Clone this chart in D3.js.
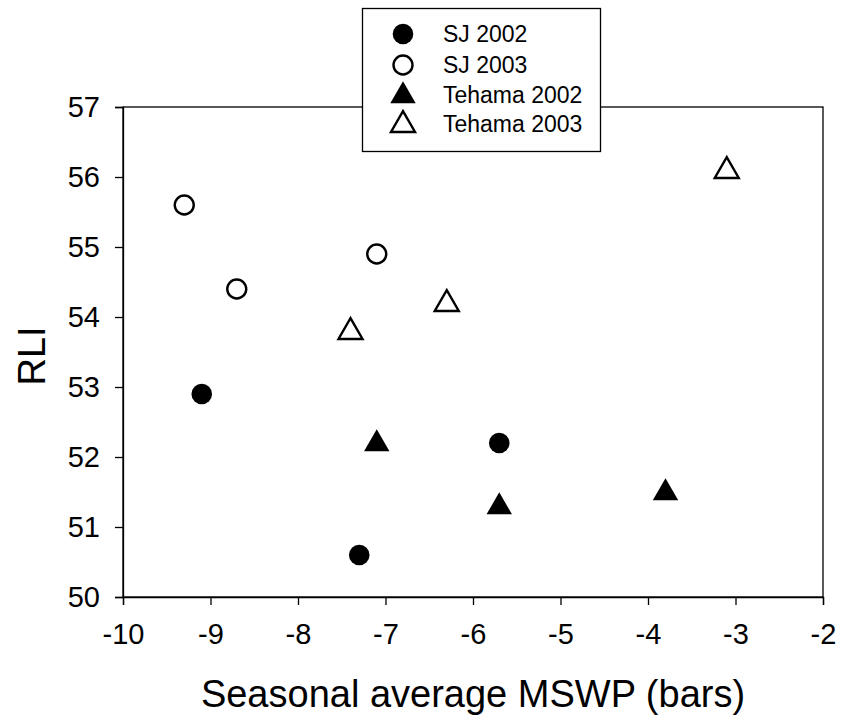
<!DOCTYPE html>
<html>
<head>
<meta charset="utf-8">
<script src="https://cdn.jsdelivr.net/npm/d3@7"></script>
<style>
  html, body { margin: 0; padding: 0; background: #fff; }
  svg { display: block; font-family: Arial, "Liberation Sans", Helvetica, sans-serif; }
</style>
</head>
<body>
<svg id="chart" width="844" height="717"></svg>
<script>
// ---- data ----
const seriesNames = ["SJ 2002", "SJ 2003", "Tehama 2002", "Tehama 2003"];
const sj2002X = [-9.1, -7.3, -5.7];
const sj2002Y = [52.9, 50.6, 52.2];
const sj2003X = [-9.3, -8.7, -7.1];
const sj2003Y = [55.6, 54.4, 54.9];
const tehama2002X = [-7.1, -5.7, -3.8];
const tehama2002Y = [52.2, 51.3, 51.5];
const tehama2003X = [-7.4, -6.3, -3.1];
const tehama2003Y = [53.8, 54.2, 56.1];
const xTicks = [-10, -9, -8, -7, -6, -5, -4, -3, -2];
const yTicks = [50, 51, 52, 53, 54, 55, 56, 57];
const xTitle = "Seasonal average MSWP (bars)";
const yTitle = "RLI";

const series = [
  { name: seriesNames[0], xs: sj2002X, ys: sj2002Y, shape: "circle", filled: true },
  { name: seriesNames[1], xs: sj2003X, ys: sj2003Y, shape: "circle", filled: false },
  { name: seriesNames[2], xs: tehama2002X, ys: tehama2002Y, shape: "triangle", filled: true },
  { name: seriesNames[3], xs: tehama2003X, ys: tehama2003Y, shape: "triangle", filled: false }
];

const svg = d3.select("#chart");
const margin = { left: 123, right: 844 - 823, top: 107, bottom: 717 - 597 };
const W = 844, H = 717;
const x = d3.scaleLinear().domain([-10, -2]).range([margin.left, W - margin.right]);
const y = d3.scaleLinear().domain([50, 57]).range([H - margin.bottom, margin.top]);

// frame
svg.append("rect")
  .attr("x", x(-10)).attr("y", y(57))
  .attr("width", x(-2) - x(-10)).attr("height", y(50) - y(57))
  .attr("fill", "none").attr("stroke", "#000").attr("stroke-width", 1.3);

// axes
const xAxis = d3.axisBottom(x).tickValues(xTicks).tickSize(8).tickPadding(18).tickFormat(d3.format("d"));
const yAxis = d3.axisLeft(y).tickValues(yTicks).tickSize(8).tickPadding(15).tickFormat(d3.format("d"));

const gx = svg.append("g").attr("transform", `translate(0,${y(50)})`).call(xAxis);
const gy = svg.append("g").attr("transform", `translate(${x(-10)},0)`).call(yAxis);
[gx, gy].forEach(g => {
  g.select(".domain").attr("stroke", "#000").attr("stroke-width", 1.3);
  g.selectAll(".tick line").attr("stroke", "#000").attr("stroke-width", 1.3);
  g.selectAll(".tick text").attr("fill", "#000").attr("font-size", 29)
    .attr("font-family", "Arial, 'Liberation Sans', sans-serif");
});
gx.selectAll(".tick text").text(d => d < 0 ? "-" + Math.abs(d) : d);

// titles
svg.append("text")
  .attr("x", (x(-10) + x(-2)) / 2).attr("y", 707)
  .attr("text-anchor", "middle").attr("font-size", 38).attr("fill", "#000")
  .text(xTitle);
svg.append("text")
  .attr("transform", `translate(45,${(y(50) + y(57)) / 2 + 4}) rotate(-90)`)
  .attr("text-anchor", "middle").attr("font-size", 38).attr("fill", "#000")
  .text(yTitle);

// markers
const circleR = 9.5;
const triSize = 250;
function drawMarker(g, s, cx, cy) {
  if (s.shape === "circle") {
    g.append("circle").attr("cx", cx).attr("cy", cy)
      .attr("r", s.filled ? circleR + 0.8 : circleR)
      .attr("fill", s.filled ? "#000" : "#fff")
      .attr("stroke", "#000").attr("stroke-width", s.filled ? 0 : 2.4);
  } else {
    g.append("path")
      .attr("d", d3.symbol().type(d3.symbolTriangle).size(s.filled ? triSize + 30 : triSize)())
      .attr("transform", `translate(${cx},${cy + 1})`)
      .attr("fill", s.filled ? "#000" : "#fff")
      .attr("stroke", "#000").attr("stroke-width", s.filled ? 0 : 2.4)
      .attr("stroke-linejoin", "miter");
  }
}

const gPts = svg.append("g");
series.forEach(s => {
  s.xs.forEach((xv, i) => drawMarker(gPts, s, x(xv), y(s.ys[i])));
});

// legend
const lg = svg.append("g");
lg.append("rect").attr("x", 362.5).attr("y", 8.5).attr("width", 238).attr("height", 143)
  .attr("fill", "#fff").attr("stroke", "#000").attr("stroke-width", 1.3);
const rowY = [34, 65, 95, 124];
series.forEach((s, i) => {
  drawMarker(lg, s, 403, rowY[i]);
  lg.append("text").attr("x", 443).attr("y", rowY[i] + 8)
    .attr("font-size", 23).attr("fill", "#000").text(s.name);
});
</script>
</body>
</html>
